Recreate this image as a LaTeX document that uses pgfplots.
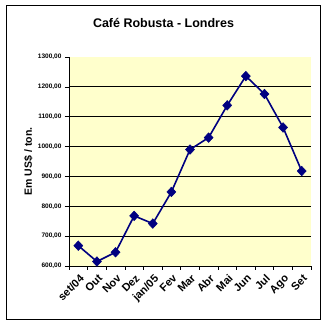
\documentclass[border=0pt]{standalone}
\usepackage{pgfplots}
\pgfplotsset{compat=1.18}
\usepackage{fontspec}
\setmainfont{Liberation Sans}
\setsansfont{Liberation Sans}
\definecolor{bgy}{HTML}{FFFFCC}
\definecolor{navyc}{HTML}{000080}
\begin{document}
\begin{tikzpicture}[x=1pt,y=1pt]
\useasboundingbox (0,0) rectangle (327,323);
\draw[black, line width=1pt] (6,3) rectangle (320,317);
\node[font=\bfseries\fontsize{12.5}{14}\selectfont] at (163.5,300) {Café Robusta - Londres};
\begin{axis}[
  at={(69pt,57pt)}, anchor=south west,
  width=242pt, height=209pt, scale only axis,
  xmin=-0.5, xmax=12.5, ymin=600, ymax=1300,
  axis background/.style={fill=bgy},
  axis x line*=bottom, axis y line*=left,
  axis line style={-, black, line width=0.8pt},
  tick pos=left, tick align=outside,
  major tick length=4pt,
  tick style={black, line width=0.6pt},
  xtick={-0.5,0.5,...,12.5},
  x tick label as interval,
  xticklabels={set/04,Out,Nov,Dez,jan/05,Fev,Mar,Abr,Mai,Jun,Jul,Ago,Set},
  xticklabel style={rotate=45, anchor=north east, font=\bfseries\fontsize{11}{12}\selectfont, inner sep=1pt, xshift=-1pt, yshift=-2pt},
  ytick={600,700,...,1300},
  yticklabel style={font=\bfseries\fontsize{6.5}{7}\selectfont},
  /pgf/number format/.cd, fixed, fixed zerofill, precision=2, use comma, 1000 sep={}, assume math mode=true,
  /pgfplots/.cd,
  extra y ticks={700,800,900,1000,1100,1200},
  extra y tick labels={},
  extra y tick style={grid=major, major grid style={black, line width=0.8pt}},
  ylabel={Em US\$ / ton.},
  ylabel style={at={(axis description cs:-0.168,0.5)}, anchor=center, font=\bfseries\fontsize{10.5}{12}\selectfont},
  clip=false,
]
\addplot[navyc, line width=1.6pt, mark=diamond*, mark size=4.8pt, mark options={fill=navyc, draw=navyc, xscale=1.25, line width=0.5pt}]
  coordinates {(0,668) (1,615) (2,646) (3,768) (4,742) (5,848) (6,990) (7,1030) (8,1138) (9,1236) (10,1176) (11,1064) (12,918)};
\end{axis}
\end{tikzpicture}
\end{document}
